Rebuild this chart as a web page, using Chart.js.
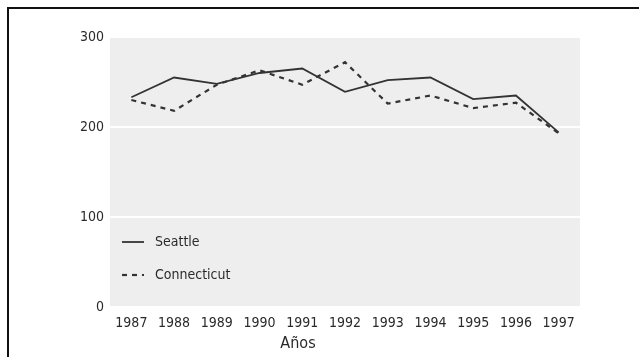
<!DOCTYPE html>
<html>
<head>
<meta charset="utf-8">
<script src="https://cdn.jsdelivr.net/npm/chart.js@4"></script>
<style>
  html, body { margin: 0; padding: 0; background: #fff; overflow: hidden; }
  #wrap { position: relative; width: 639px; height: 357px; }
  #frame { position: absolute; left: 7px; top: 7px; width: 640px; height: 360px;
           border-left: 2px solid #111; border-top: 2px solid #111; }
  canvas { position: absolute; left: 0; top: 0; }
</style>
</head>
<body>
<div id="wrap">
  <div id="frame"></div>
  <canvas id="trend" width="639" height="357"></canvas>
</div>
<script>
const years = ["1987", "1988", "1989", "1990", "1991", "1992", "1993", "1994", "1995", "1996", "1997"];
const seattle = [233, 255, 248, 260, 265, 239, 252, 255, 231, 235, 194];
const connecticut = [230, 218, 247, 263, 247, 272, 226, 235, 221, 227, 193];
const yTicks = [0, 100, 200, 300];

const FONT = "'DejaVu Sans Condensed', 'Liberation Sans', sans-serif";

// grey panel behind the plot
const panelBg = {
  id: "panelBg",
  beforeDraw(chart) {
    const { ctx, chartArea } = chart;
    ctx.save();
    ctx.fillStyle = "#eeeeee";
    ctx.fillRect(chartArea.left, chartArea.top, chartArea.right - chartArea.left, chartArea.bottom - chartArea.top);
    ctx.restore();
  }
};

// legend inside the plot, bottom left, plus the x axis title
const extras = {
  id: "extras",
  afterDraw(chart) {
    const { ctx, chartArea } = chart;
    ctx.save();
    const rows = [chartArea.bottom - 65, chartArea.bottom - 32];
    chart.data.datasets.forEach((ds, i) => {
      const y = rows[i];
      ctx.strokeStyle = ds.borderColor;
      ctx.lineWidth = ds.borderWidth;
      ctx.setLineDash(ds.borderDash || []);
      ctx.beginPath();
      ctx.moveTo(chartArea.left + 12, y);
      ctx.lineTo(chartArea.left + 34, y);
      ctx.stroke();
      ctx.setLineDash([]);
      ctx.fillStyle = "#2a2a2a";
      ctx.font = "14px " + FONT;
      ctx.textBaseline = "middle";
      ctx.fillText(ds.label, chartArea.left + 45, y);
    });
    ctx.fillStyle = "#2a2a2a";
    ctx.font = "16px " + FONT;
    ctx.textAlign = "center";
    ctx.textBaseline = "middle";
    ctx.fillText("Años", 298, 344);
    ctx.restore();
  }
};

new Chart(document.getElementById("trend"), {
  type: "line",
  data: {
    labels: years,
    datasets: [
      {
        label: "Seattle",
        data: seattle,
        borderColor: "#333333",
        borderWidth: 1.8,
        pointRadius: 0,
        tension: 0
      },
      {
        label: "Connecticut",
        data: connecticut,
        borderColor: "#333333",
        borderWidth: 2.2,
        borderDash: [5, 5],
        pointRadius: 0,
        tension: 0
      }
    ]
  },
  options: {
    responsive: false,
    animation: false,
    layout: { padding: { top: 37, right: 59, left: 0, bottom: 0 } },
    plugins: { legend: { display: false }, tooltip: { enabled: false } },
    scales: {
      x: {
        offset: true,
        grid: { display: false },
        border: { display: false },
        ticks: { color: "#2a2a2a", font: { family: FONT, size: 14 }, padding: 0, maxRotation: 0, autoSkip: false },
        afterFit(scale) { scale.height = 50; }
      },
      y: {
        min: 0,
        max: 300,
        afterBuildTicks(scale) { scale.ticks = yTicks.map(v => ({ value: v })); },
        grid: { color: "#ffffff", lineWidth: 2, drawTicks: false },
        border: { display: false },
        ticks: { color: "#2a2a2a", font: { family: FONT, size: 14 }, padding: 6 },
        afterFit(scale) { scale.width = 110; }
      }
    }
  },
  plugins: [panelBg, extras]
});
</script>
</body>
</html>
